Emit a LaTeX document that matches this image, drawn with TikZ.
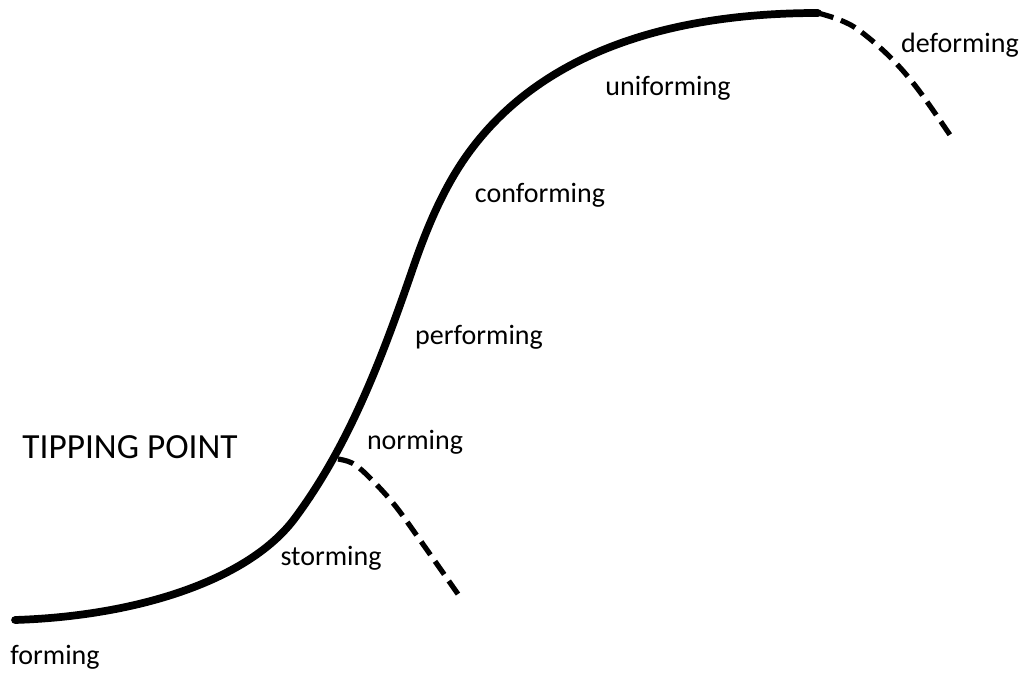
\documentclass[tikz,border=0pt]{standalone}
\usepackage{fontspec}
\setmainfont{Carlito}
\begin{document}
\begin{tikzpicture}[x=0.75pt,y=-0.75pt,
  curve/.style={line width=5.8pt,line cap=round,line join=round},
  dcurve/.style={line width=3.9pt,dash pattern=on 12pt off 6pt},
  lbl/.style={font=\fontsize{21pt}{24pt}\selectfont,inner sep=0pt},
  big/.style={font=\fontsize{26.5pt}{30pt}\selectfont,inner sep=0pt}]
\useasboundingbox (0,0) rectangle (1022,674);
\coordinate (p0) at (15,620);
\coordinate (p1) at (295,518);
\coordinate (p2) at (413,268);
\coordinate (p3) at (473,147);
\coordinate (p4) at (818,13);
\coordinate (tip) at (338,459);
\draw[curve] (p0) .. controls (140,616) and (250,579) .. (p1)
  .. controls (350,444) and (383,355) .. (p2)
  .. controls (428,224.5) and (446,182) .. (p3)
  .. controls (545,53) and (668,13) .. (p4);
\draw[dcurve] plot[smooth,tension=0.6] coordinates {(818,13) (840,20) (860,31) (890,57) (917,88) (950,135)};
\draw[dcurve] plot[smooth,tension=0.6] coordinates {(338,459) (352,463) (367,475) (393,503) (420,540) (460,597)};
\node[lbl] (forming) at (55,657) {forming};
\node[lbl] (storming) at (331,558) {storming};
\node[big] (tipping) at (130,447) {TIPPING POINT};
\node[lbl] (norming) at (415,442) {norming};
\node[lbl] (performing) at (479,337) {performing};
\node[lbl] (conforming) at (540,195) {conforming};
\node[lbl] (uniforming) at (668,88) {uniforming};
\node[lbl] (deforming) at (960,45) {deforming};
\end{tikzpicture}
\end{document}
